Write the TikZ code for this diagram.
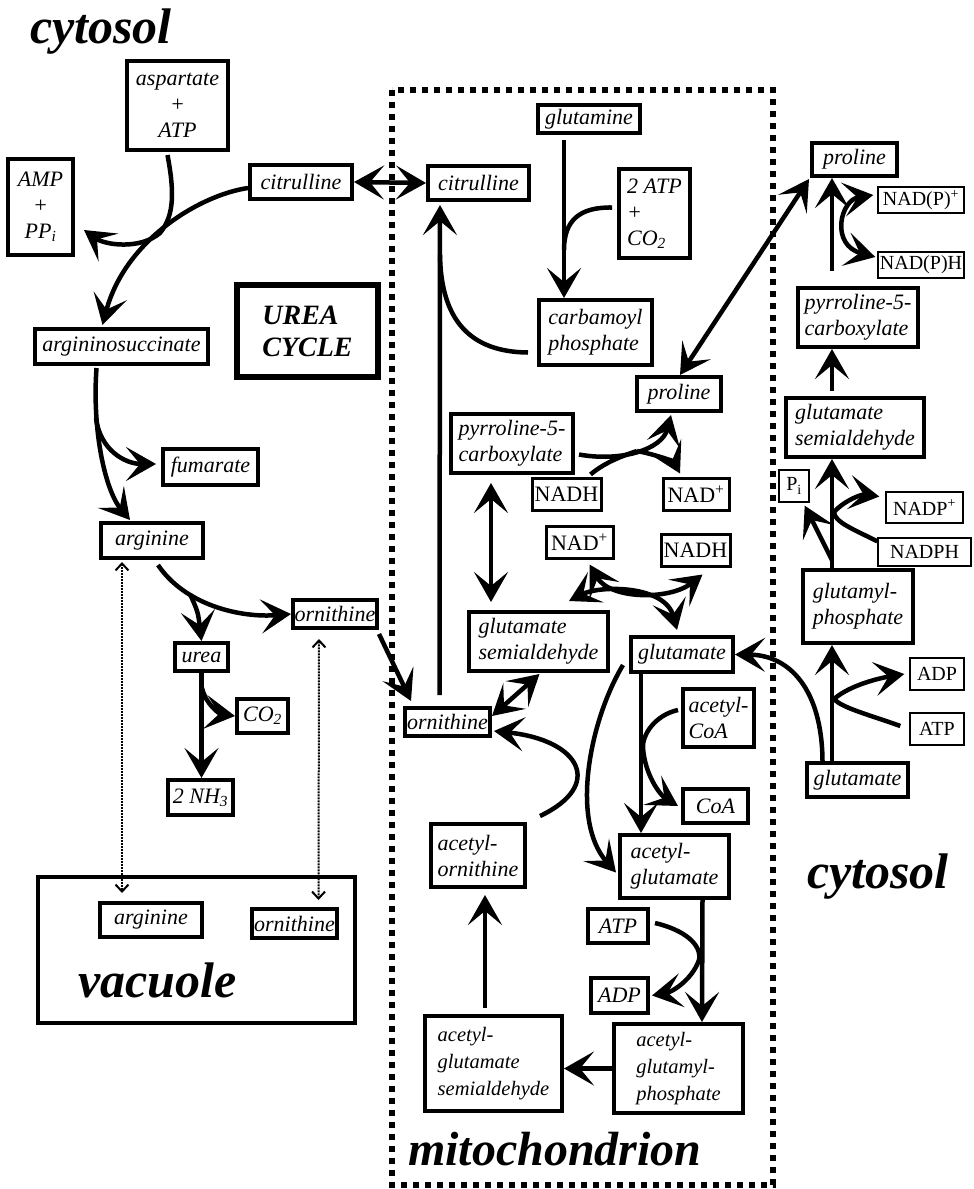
\documentclass[tikz,border=0pt]{standalone}
\usepackage{fontspec}
\setmainfont{Liberation Serif}
\usetikzlibrary{arrows.meta,calc}
\newcommand{\metfont}{\fontsize{22}{26}\selectfont\itshape}
\newcommand{\smallmetfont}{\fontsize{20.5}{27}\selectfont\itshape}
\newcommand{\coffont}{\fontsize{22}{24}\selectfont}
\newcommand{\cyclefont}{\fontsize{28}{32}\selectfont\bfseries\itshape}
\newcommand{\regionfont}{\fontsize{50}{50}\selectfont\bfseries\itshape}

\begin{document}
\begin{tikzpicture}[x=1pt, y=-1pt,
  >={Stealth[length=30pt, width=34pt, inset=14pt]},
  sz/.style 2 args={minimum width=#1pt, minimum height=#2pt},
  met/.style={draw, line width=4pt, font=\metfont, inner sep=1pt, align=center},
  metl/.style={met, align=left},
  cof/.style={draw, line width=3pt, font=\coffont, inner sep=1pt},
  cofthin/.style={cof, line width=1.4pt, font=\fontsize{20}{23}\selectfont},
  region/.style={font=\regionfont, inner sep=0pt, anchor=base west},
  arr/.style={line width=4.5pt, ->},
  dbl/.style={line width=4.5pt, <->},
  link/.style={line width=4.5pt},
  vacflow/.style={line width=2pt, densely dotted, {Straight Barb[length=7pt,width=13pt]}-{Straight Barb[length=7pt,width=13pt]}}]
\useasboundingbox (0,0) rectangle (974,1189);

% compartments
\draw[line width=6pt, dash pattern=on 6pt off 6pt] (392,90) rectangle (773,1185);
\node[draw, line width=4pt, sz={317}{146}] (vac) at (196.5,950) {};
\node[region] (cytL) at (30,43) {cytosol};
\node[region] (vacL) at (78,997) {vacuole};
\node[region, font=\fontsize{48}{48}\selectfont\bfseries\itshape] (mitoL) at (408,1165) {mitochondrion};
\node[region] (cytR) at (807,888) {cytosol};

% urea cycle, cytosol
\node[met, sz={101}{89}] (asp) at (177.5,105.5) {aspartate\\+\\ATP};
\node[met, sz={65}{96}] (amp) at (40.5,207) {AMP\\+\\PP\textsubscript{\textit{i}}};
\node[met, sz={102}{34}] (citC) at (301,182) {citrulline};
\node[met, sz={173}{35}] (asuc) at (121.5,346.5) {argininosuccinate};
\node[met, font=\cyclefont, line width=6pt, sz={141}{92}, align=left] (cycle) at (307.5,331) {UREA\\CYCLE};
\node[met, sz={95}{36}] (fum) at (210.5,467) {fumarate};
\node[met, sz={102}{35}] (argC) at (152,540.5) {arginine};
\node[met, sz={84}{28}] (ornC) at (335,614) {ornithine};
\node[met, sz={53}{28}] (urea) at (201.5,657) {urea};
\node[met, sz={51}{34}] (co2) at (262.5,716) {CO\textsubscript{2}};
\node[met, sz={65}{35}] (nh3) at (200.5,797.5) {2 NH\textsubscript{3}};
\node[met, sz={102}{34}] (argV) at (151,920) {arginine};
\node[met, sz={85}{29}] (ornV) at (294.5,923.5) {ornithine};

% mitochondrion
\node[met, sz={101}{34}] (citM) at (478.5,183) {citrulline};
\node[met, sz={102}{28}] (gln) at (589,119) {glutamine};
\node[metl, sz={71}{89}] (atpco) at (654.5,213.5) {2 ATP\\+\\CO\textsubscript{2}};
\node[metl, sz={113}{65}] (carb) at (595.5,332.5) {carbamoyl\\phosphate};
\node[met, sz={84}{34}] (proM) at (679,394) {proline};
\node[metl, sz={122}{59}] (p5cM) at (512,443.5) {pyrroline-5-\\carboxylate};
\node[cof, sz={69}{32}] (nadhA) at (566.5,494) {NADH};
\node[cof, sz={66}{32}] (nadA) at (696,494) {NAD\textsuperscript{+}};
\node[cof, sz={67}{32}] (nadB) at (579.5,542) {NAD\textsuperscript{+}};
\node[cof, sz={69}{32}] (nadhB) at (695.5,550) {NADH};
\node[metl, sz={139}{59}] (gsaM) at (538.5,641.5) {glutamate\\semialdehyde};
\node[met, sz={102}{35}] (gluM) at (682,654.5) {glutamate};
\node[met, sz={85}{28}] (ornM) at (447.5,722) {ornithine};
\node[metl, sz={71}{58}] (acoa) at (718.5,718) {acetyl-\\CoA};
\node[met, sz={65}{34}] (coa) at (715.5,806) {CoA};
\node[metl, sz={94}{63}] (aorn) at (478,855.5) {acetyl-\\ornithine};
\node[metl, sz={109}{63}] (aglu) at (674.5,866.5) {acetyl-\\glutamate};
\node[met, sz={60}{34}] (atpM) at (618,926) {ATP};
\node[met, sz={57}{35}] (adpM) at (619.5,995.5) {ADP};
\node[metl, sz={137}{95}, font=\smallmetfont] (agsa) at (493.5,1063.5) {acetyl-\\glutamate\\semialdehyde};
\node[metl, sz={129}{89}, font=\smallmetfont] (agp) at (678.5,1068.5) {acetyl-\\glutamyl-\\phosphate};

% proline synthesis, cytosol
\node[met, sz={85}{33}] (proC) at (854.5,159.5) {proline};
\node[cofthin, sz={86}{26}] (nadp1) at (921,200) {NAD(P)\textsuperscript{+}};
\node[cofthin, sz={86}{26}] (nadph1) at (921,265) {NAD(P)H};
\node[metl, sz={120}{59}] (p5cC) at (858,317.5) {pyrroline-5-\\carboxylate};
\node[metl, sz={138}{59}] (gsaC) at (855,427.5) {glutamate\\semialdehyde};
\node[cofthin, sz={30}{32}] (pi) at (794,486) {P\textsubscript{i}};
\node[cofthin, sz={77}{31}] (nadpP) at (924.5,507.5) {NADP\textsuperscript{+}};
\node[cofthin, sz={93}{28}] (nadph2) at (924.5,552) {NADPH};
\node[metl, sz={110}{73}] (gp) at (858,606.5) {glutamyl-\\phosphate};
\node[cofthin, sz={54}{32}] (adpC) at (937,674) {ADP};
\node[cofthin, sz={54}{32}] (atpC) at (937,729) {ATP};
\node[met, sz={101}{34}] (gluC) at (857.5,780) {glutamate};

% branch points
\coordinate (colx) at (832,0);
\coordinate (fumfork) at (96,418);
\coordinate (ureafork) at (190,594);
\coordinate (co2fork) at (202,688);
\coordinate (carbfork) at (440,255);
\coordinate (atpfork) at (564,250);
\coordinate (nadfork) at (637,451);
\coordinate (acoafork) at (643,748);
\coordinate (adpfork) at (699,960);
\coordinate (nadpfork) at (834,512);
\coordinate (pifork) at (832,560);
\coordinate (adpcfork) at (834,699);

% urea cycle
\draw[arr] ($(citC.west)+(0,6)$) .. controls (200,195) and (125,240) .. ($(asuc.north)+(-19,-2)$);
\draw[arr] ($(asp.south)+(-10,3)$) .. controls (174,190) and (175,215) .. (160,233) .. controls (140,250) and (105,245) .. ($(amp.east)+(9,23)$);
\draw[arr] ($(asuc.south)+(-25,2)$) .. controls (92,430) and (105,490) .. ($(argC.north)+(-22,-1)$);
\draw[arr] (fumfork) .. controls (100,450) and (125,464) .. ($(fum.west)+(-5,-3)$);
\draw[arr] ($(argC.south)+(6,5)$) .. controls (185,605) and (240,618) .. (ornC.west);
\draw[arr] (ureafork) .. controls (198,612) .. (urea.north);
\draw[arr] (urea.south) -- (urea.south |- nh3.north);
\draw[arr] (co2fork) .. controls (206,705) and (220,714) .. (co2.west);
\draw[arr] ($(ornC.south east)+(0,4)$) -- ($(ornM.north west)+(8,-5)$);
\draw[vacflow] ($(argC.south)+(-30,2)$) -- ($(argV.north)+(-29,-8)$);
\draw[vacflow] ($(ornC.south)+(-16,9)$) -- ($(ornV.north)+(24,-7)$);

% mitochondrion
\draw[dbl] (citC.east) -- (citM.west);
\draw[arr] ($(ornM.north)+(-8,-11)$) -- ($(citM.south)+(-38.5,3)$);
\draw[link] ($(carb.west)+(-9,20)$) .. controls (470,352) and (441,320) .. (carbfork);
\draw[arr] ($(gln.south)+(-25,5)$) -- ($(carb.north)+(-31.5,0)$);
\draw[link] ($(atpco.west)+(-5,-6)$) .. controls (580,207) and (564,220) .. (atpfork);
\draw[dbl] ($(proC.south west)+(-1,1)$) -- ($(proM.north)+(1,0)$);
\draw[arr] ($(p5cM.east)+(4,11)$) .. controls (620,462) and (662,450) .. ($(proM.south)+(-8,2)$);
\draw[link] ($(nadhA.north)+(24,-2)$) .. controls (605,462) and (625,455) .. (nadfork);
\draw[arr] (nadfork) .. controls (658,455) and (674,462) .. ($(nadA.north)+(-16,-3)$);
\draw[dbl] ($(p5cM.south)+(-21,8)$) -- ($(gsaM.north)+(-47.5,-8)$);
\draw[dbl] ($(gsaM.north east)+(-41,-9)$) .. controls (600,585) and (665,585) .. ($(gluM.north)+(-5,-5)$);
\draw[dbl] ($(nadB.south)+(10,5)$) .. controls (610,600) and (670,600) .. ($(nadhB.south)+(7,7)$);
\draw[dbl] ($(ornM.east)+(0,-6)$) -- ($(gsaM.south)+(1,1)$);
\draw[arr] ($(gluC.north)+(-35,0)$) .. controls (822,690) and (790,655) .. (gluM.east);
\draw[arr] ($(gluM.south)+(-41,0)$) -- ($(aglu.north)+(-33.5,0)$);
\draw[arr] ($(acoa.west)+(-3,-8)$) .. controls (655,715) and (642,735) .. (acoafork) .. controls (645,775) and (660,795) .. ($(coa.west)+(-3,0)$);
\draw[arr] ($(gluM.south west)+(-6,-9)$) .. controls (590,720) and (570,820) .. ($(aglu.west)+(-2,6)$);
\draw[arr] ($(aorn.north east)+(13,-6)$) .. controls (605,785) and (580,740) .. ($(ornM.east)+(2,9)$);
\draw[arr] ($(aglu.south)+(28,0)$) -- ($(agp.north)+(23.5,0)$);
\draw[arr] ($(atpM.east)+(5,-3)$) .. controls (685,930) and (702,945) .. (adpfork) .. controls (692,980) and (672,992) .. ($(adpM.east)+(2,0)$);
\draw[arr] (agp.west) -- (agp.west -| agsa.east);
\draw[arr] ($(agsa.north)+(-8.5,-6)$) -- ($(aorn.south)+(7,6)$);

% proline synthesis
\draw[arr] ($(p5cC.north -| colx)+(0,-15)$) -- (proC.south -| colx);
\draw[dbl] ($(nadp1.west)+(-4,-5)$) .. controls (840,200) and (830,245) .. ($(nadph1.west)+(-2,-8)$);
\draw[arr] ($(gsaC.north -| colx)+(0,-5)$) -- (p5cC.south -| colx);
\draw[arr] (gp.north -| colx) -- (gsaC.south -| colx);
\draw[link] ($(nadph2.north west)+(0,4)$) .. controls (855,530) and (834,522) .. (nadpfork);
\draw[arr] (nadpfork) .. controls (845,500) and (862,494) .. ($(nadpP.west)+(-6,-11)$);
\draw[arr] (pifork) -- ($(pi.south east)+(-5,3)$);
\draw[arr] (gluC.north -| colx) -- (gp.south -| colx);
\draw[arr] ($(atpC.west)+(-9,-3)$) .. controls (870,715) and (842,708) .. (adpcfork) .. controls (850,685) and (880,678) .. ($(adpC.west)+(-5,0)$);
\end{tikzpicture}
\end{document}
